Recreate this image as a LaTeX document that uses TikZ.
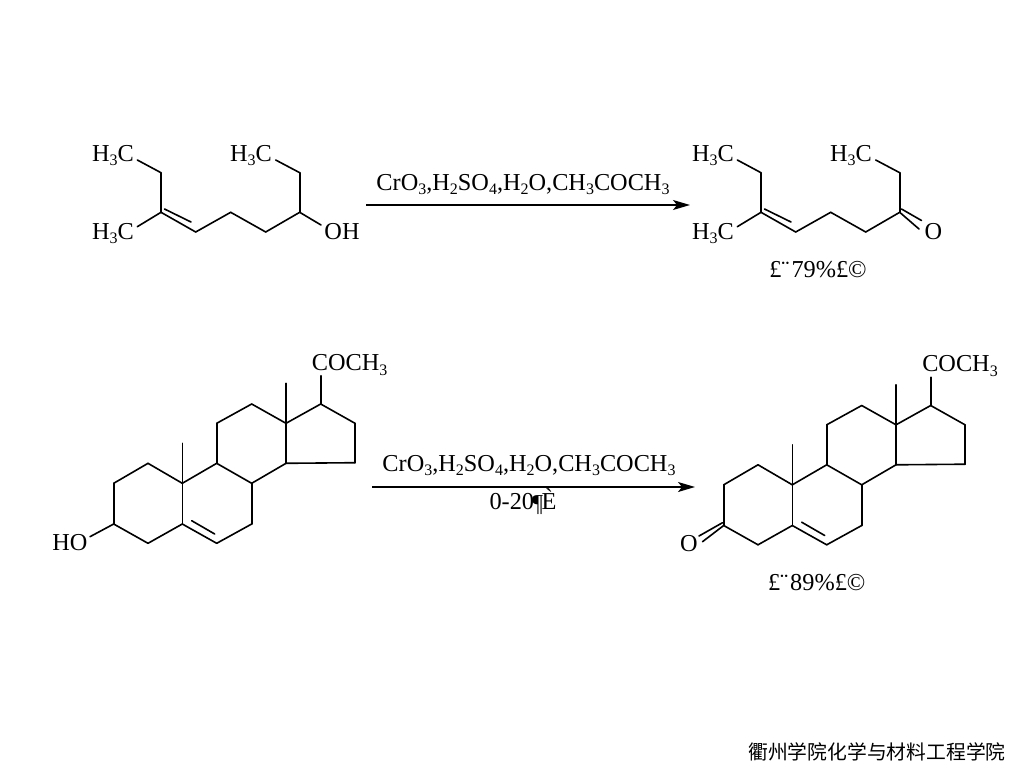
\documentclass[tikz,border=0pt]{standalone}
\usepackage{fontspec}
\usetikzlibrary{arrows.meta}
\setmainfont{Liberation Serif}
\newfontfamily\cjk{Noto Sans CJK SC}
\newcommand{\sub}[1]{\raisebox{-4.5pt}{\fontsize{16}{16}\selectfont #1}}
\tikzset{
  bond/.style={line width=1.6pt, line cap=round},
  rxn/.style={line width=1.4pt, -{Stealth[length=17pt,width=10pt,inset=4pt]}},
  chem/.style={anchor=base, inner sep=0, font=\fontsize{24.3}{24}\selectfont}
}
\begin{document}
\begin{tikzpicture}
        [x=1pt, y=-1pt]

        \useasboundingbox (0, 0) rectangle (1024, 768);

        % top left chain
        \coordinate (a1) at (137.3, 160);
        \coordinate (a2) at (161, 172.7);
        \coordinate (a3) at (161, 212.3);
        \coordinate (a4) at (137.3, 226.7);
        \coordinate (a5) at (195.7, 232);
        \coordinate (a6) at (230.7, 212.3);
        \coordinate (a7) at (265.7, 232);
        \coordinate (a8) at (299.7, 212.3);
        \coordinate (a9) at (299.7, 172.7);
        \coordinate (a10) at (275.7, 160);
        \coordinate (a11) at (321, 225);
        \coordinate (a12) at (164.5, 209);
        \coordinate (a13) at (191, 222);

        \node[chem] (t1) at (113, 161) {H\sub{3}C};
        \node[chem] (t2) at (113, 239) {H\sub{3}C};
        \node[chem] (t3) at (251, 161) {H\sub{3}C};
        \node[chem] (t4) at (342, 239) {OH};

        \draw[bond] (a1) -- (a2);
        \draw[bond] (a2) -- (a3);
        \draw[bond] (a3) -- (a4);
        \draw[bond] (a3) -- (a5);
        \draw[bond] (a12) -- (a13);
        \draw[bond] (a5) -- (a6);
        \draw[bond] (a6) -- (a7);
        \draw[bond] (a7) -- (a8);
        \draw[bond] (a8) -- (a9);
        \draw[bond] (a9) -- (a10);
        \draw[bond] (a8) -- (a11);

        % top right chain
        \coordinate (b1) at (737.3, 160);
        \coordinate (b2) at (761, 172.7);
        \coordinate (b3) at (761, 212.3);
        \coordinate (b4) at (737.3, 226.7);
        \coordinate (b5) at (795.7, 232);
        \coordinate (b6) at (830.7, 212.3);
        \coordinate (b7) at (865.7, 232);
        \coordinate (b8) at (899.7, 212.3);
        \coordinate (b9) at (899.7, 172.7);
        \coordinate (b10) at (875.7, 160);
        \coordinate (b11) at (919, 229);
        \coordinate (b12) at (764.5, 209);
        \coordinate (b13) at (791, 222);
        \coordinate (b14) at (901.5, 209);
        \coordinate (b15) at (921.5, 220.5);

        \node[chem] (t5) at (713, 161) {H\sub{3}C};
        \node[chem] (t6) at (713, 239) {H\sub{3}C};
        \node[chem] (t7) at (851, 161) {H\sub{3}C};
        \node[chem] (t8) at (933.5, 239) {O};
        \node[chem] (t9) at (818, 277.7) {£¨\kern2pt 79\%£©};

        \draw[bond] (b1) -- (b2);
        \draw[bond] (b2) -- (b3);
        \draw[bond] (b3) -- (b4);
        \draw[bond] (b3) -- (b5);
        \draw[bond] (b12) -- (b13);
        \draw[bond] (b5) -- (b6);
        \draw[bond] (b6) -- (b7);
        \draw[bond] (b7) -- (b8);
        \draw[bond] (b8) -- (b9);
        \draw[bond] (b9) -- (b10);
        \draw[bond] (b8) -- (b11);
        \draw[bond] (b14) -- (b15);

        % top arrow
        \coordinate (r1) at (366, 205);
        \coordinate (r2) at (690, 205);
        \draw[rxn] (r1) -- (r2);
        \node[chem] (t10) at (523, 190) {CrO\sub{3},H\sub{2}SO\sub{4},H\sub{2}O,CH\sub{3}COCH\sub{3}};

        % bottom left steroid
        \coordinate (c1) at (113.7, 524);
        \coordinate (c2) at (113.7, 483.3);
        \coordinate (c3) at (148, 463.3);
        \coordinate (c4) at (182.3, 483.3);
        \coordinate (c5) at (182.3, 524);
        \coordinate (c6) at (148, 543.3);
        \coordinate (c7) at (216.7, 543.3);
        \coordinate (c8) at (251.7, 524);
        \coordinate (c9) at (251.7, 483.3);
        \coordinate (c10) at (216.7, 463.3);
        \coordinate (c11) at (216.7, 423.3);
        \coordinate (c12) at (251.7, 404);
        \coordinate (c13) at (286, 423.3);
        \coordinate (c14) at (286, 463.3);
        \coordinate (c15) at (355, 462.7);
        \coordinate (c16) at (355, 423.3);
        \coordinate (c17) at (320.7, 404);
        \coordinate (c18) at (320.7, 375.7);
        \coordinate (c19) at (286, 383.3);
        \coordinate (c20) at (182.3, 443.3);
        \coordinate (c21) at (90, 536.7);
        \coordinate (c22) at (191.7, 520.7);
        \coordinate (c23) at (214.7, 534);

        \node[chem] (t11) at (70, 550) {HO};
        \node[chem] (t12) at (349.7, 370.7) {COCH\sub{3}};

        \draw[bond] (c1) -- (c2);
        \draw[bond] (c2) -- (c3);
        \draw[bond] (c3) -- (c4);
        \draw[bond] (c4) -- (c5);
        \draw[bond] (c5) -- (c6);
        \draw[bond] (c6) -- (c1);
        \draw[bond] (c5) -- (c7);
        \draw[bond] (c22) -- (c23);
        \draw[bond] (c7) -- (c8);
        \draw[bond] (c8) -- (c9);
        \draw[bond] (c9) -- (c10);
        \draw[bond] (c10) -- (c4);
        \draw[bond] (c10) -- (c11);
        \draw[bond] (c11) -- (c12);
        \draw[bond] (c12) -- (c13);
        \draw[bond] (c13) -- (c14);
        \draw[bond] (c14) -- (c9);
        \draw[bond] (c14) -- (c15);
        \draw[bond] (c15) -- (c16);
        \draw[bond] (c16) -- (c17);
        \draw[bond] (c17) -- (c13);
        \draw[bond] (c17) -- (c18);
        \draw[bond] (c13) -- (c19);
        \draw[bond] (c4) -- (c20);
        \draw[bond] (c1) -- (c21);

        % bottom right steroid
        \coordinate (d1) at (723.7, 525.5);
        \coordinate (d2) at (723.7, 484.8);
        \coordinate (d3) at (758, 464.8);
        \coordinate (d4) at (792.3, 484.8);
        \coordinate (d5) at (792.3, 525.5);
        \coordinate (d6) at (758, 544.8);
        \coordinate (d7) at (826.7, 544.8);
        \coordinate (d8) at (861.7, 525.5);
        \coordinate (d9) at (861.7, 484.8);
        \coordinate (d10) at (826.7, 464.8);
        \coordinate (d11) at (826.7, 424.8);
        \coordinate (d12) at (861.7, 405.5);
        \coordinate (d13) at (896, 424.8);
        \coordinate (d14) at (896, 464.8);
        \coordinate (d15) at (965, 464.2);
        \coordinate (d16) at (965, 424.8);
        \coordinate (d17) at (930.7, 405.5);
        \coordinate (d18) at (930.7, 377.2);
        \coordinate (d19) at (896, 384.8);
        \coordinate (d20) at (792.3, 444.8);
        \coordinate (d21) at (699, 536);
        \coordinate (d22) at (801.7, 522.2);
        \coordinate (d23) at (824.7, 535.5);
        \coordinate (d24) at (722.5, 522.7);
        \coordinate (d25) at (702.5, 541.7);

        \node[chem] (t13) at (689, 551.7) {O};
        \node[chem] (t14) at (960, 371.7) {COCH\sub{3}};
        \node[chem] (t15) at (816.7, 590) {£¨\kern2pt 89\%£©};

        \draw[bond] (d1) -- (d2);
        \draw[bond] (d2) -- (d3);
        \draw[bond] (d3) -- (d4);
        \draw[bond] (d4) -- (d5);
        \draw[bond] (d5) -- (d6);
        \draw[bond] (d6) -- (d1);
        \draw[bond] (d5) -- (d7);
        \draw[bond] (d22) -- (d23);
        \draw[bond] (d7) -- (d8);
        \draw[bond] (d8) -- (d9);
        \draw[bond] (d9) -- (d10);
        \draw[bond] (d10) -- (d4);
        \draw[bond] (d10) -- (d11);
        \draw[bond] (d11) -- (d12);
        \draw[bond] (d12) -- (d13);
        \draw[bond] (d13) -- (d14);
        \draw[bond] (d14) -- (d9);
        \draw[bond] (d14) -- (d15);
        \draw[bond] (d15) -- (d16);
        \draw[bond] (d16) -- (d17);
        \draw[bond] (d17) -- (d13);
        \draw[bond] (d17) -- (d18);
        \draw[bond] (d13) -- (d19);
        \draw[bond] (d4) -- (d20);
        \draw[bond] (d24) -- (d21);
        \draw[bond] (d1) -- (d25);

        % bottom arrow
        \coordinate (r3) at (372, 487);
        \coordinate (r4) at (695, 487);
        \draw[rxn] (r3) -- (r4);
        \node[chem] (t16) at (529, 471) {CrO\sub{3},H\sub{2}SO\sub{4},H\sub{2}O,CH\sub{3}COCH\sub{3}};
        \node[chem] (t17) at (523, 509.3) {0-20\kern-2pt\raisebox{-2.5pt}{¶}\kern-1.5ptÈ};

        \node[anchor=center, inner sep=0, font=\cjk\fontsize{19.8}{20}\selectfont] (t18) at (877, 752) {衢州学院化学与材料工程学院};

      \end{tikzpicture}
\end{document}
